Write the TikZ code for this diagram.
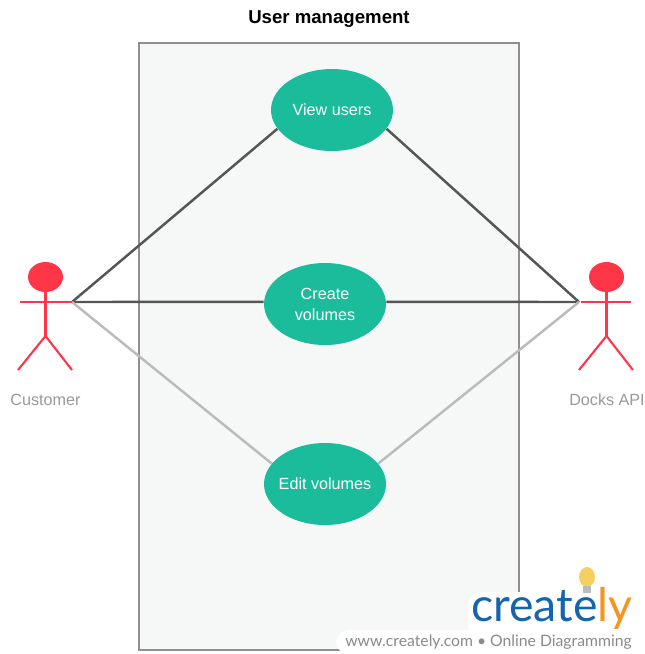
\documentclass[tikz,border=0pt]{standalone}
\usepackage{fontspec}
\setmainfont{Liberation Sans}
\newfontfamily\logofont{Lato}
\usetikzlibrary{shapes.geometric}
\definecolor{usecasegreen}{HTML}{1ABC9C}
\definecolor{actorred}{HTML}{FF3548}
\definecolor{boxfill}{HTML}{F6F8F7}
\definecolor{boxline}{HTML}{8F8F8F}
\definecolor{darkline}{HTML}{555555}
\definecolor{lightline}{HTML}{BBBBBB}
\definecolor{labelgray}{HTML}{999999}
\definecolor{logoblue}{HTML}{1565AE}
\definecolor{logoorange}{HTML}{F7941E}
\definecolor{logobulb}{HTML}{F6CF62}
\tikzset{
  usecase/.style={ellipse,fill=usecasegreen,text=white,align=center,inner sep=0pt,inner xsep=-0.2cm,
    minimum width=2.44cm,minimum height=1.64cm,font=\fontsize{9.2}{12}\selectfont},
  limb/.style={draw=actorred,line width=1.2pt},
  actorname/.style={text=labelgray,font=\fontsize{9.2}{12}\selectfont},
  strong/.style={draw=darkline,line width=1.4pt},
  weak/.style={draw=lightline,line width=1.4pt}
}
\begin{document}
\begin{tikzpicture}[x=0.02cm,y=-0.02cm]
  \useasboundingbox (0,0) rectangle (645,654);

  \node (title) at (329,19.5) {\fontsize{10.6}{12}\selectfont\bfseries User management};
  \draw [boxline,fill=boxfill,line width=1.2pt] (139,43) rectangle (519,650);

  \node[usecase] (view) at (332,110) {View users};
  \node[usecase] (create) at (325,304) {Create\\volumes};
  \node[usecase] (edit) at (325,484) {Edit volumes};

  \coordinate (custhand) at (72,302);
  \coordinate (dockhand) at (579,302);

  \path[strong] (custhand) -- (view.199);
  \path[strong] (custhand) -- (create.178);
  \path[weak] (custhand) -- (edit.159);
  \path[strong] (dockhand) -- (view.341);
  \path[strong] (dockhand) -- (create.2);
  \path[weak] (dockhand) -- (edit.21);

  % left actor
  \node[ellipse,fill=actorred,minimum width=0.7cm,minimum height=0.6cm,inner sep=0pt] (custhead) at (45.5,277) {};
  \coordinate (custhip) at (45.5,336);
  \draw[limb] (custhead.south) -- (custhip);
  \draw[limb] (20,302) -- (custhand);
  \draw[limb] (18,370) -- (custhip) -- (72,370);
  \node[actorname] (customer) at (45.5,400) {Customer};

  % right actor
  \node[ellipse,fill=actorred,minimum width=0.7cm,minimum height=0.6cm,inner sep=0pt] (dockhead) at (606.5,277) {};
  \coordinate (dockhip) at (606.5,336);
  \draw[limb] (dockhead.south) -- (dockhip);
  \draw[limb] (581,302) -- (631,302);
  \draw[limb] (579,370) -- (dockhip) -- (633,370);
  \node[actorname] (docks) at (607,400) {Docks API};

  % logo
  \fill[white,rounded corners=0.3cm] (468,592) rectangle (640,640);
  \fill[white,rounded corners=0.25cm] (336,630) rectangle (645,654);
  \node[ellipse,fill=logobulb,minimum width=0.32cm,minimum height=0.4cm,inner sep=0pt] (bulb) at (587,577) {};
  \fill[lightline] (583,586) rectangle (591,593);
  \node[inner sep=0pt,anchor=base west] (logo) at (471,621) {\logofont\fontsize{26.4}{30}\selectfont\textcolor{logoblue}{create}\textcolor{logoorange}{ly}};
  \node[inner sep=0pt,anchor=base west,text=labelgray!90!black] (logotext) at (345,646) {\logofont\fontsize{8.96}{11}\selectfont www.creately.com \textbullet{} Online Diagramming};
\end{tikzpicture}
\end{document}
